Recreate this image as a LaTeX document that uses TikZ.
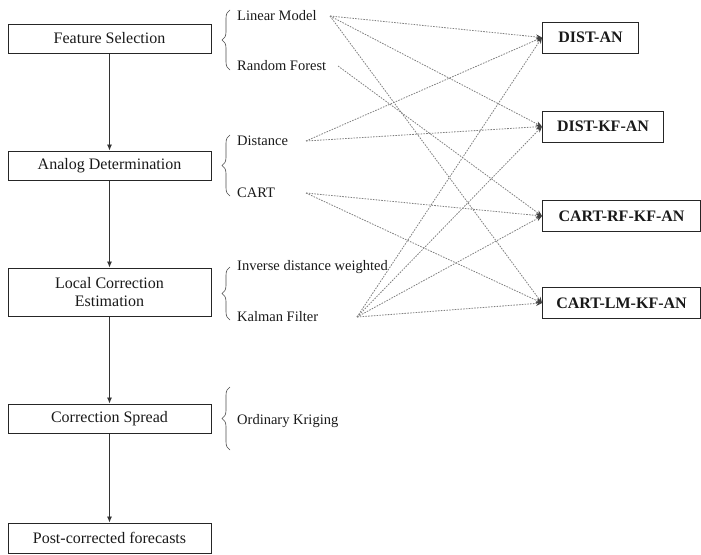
\documentclass[tikz,border=0pt]{standalone}
\usepackage{fontspec}
\setmainfont{Liberation Serif}
\usetikzlibrary{positioning,arrows.meta,decorations.pathreplacing}

\tikzset{
  stage/.style={draw=black!85, line width=1pt, minimum width=203pt, minimum height=29pt,
    inner sep=0pt, align=center, text=black!90, font=\fontsize{16}{18.5}\selectfont},
  method/.style={anchor=west, inner sep=0pt, text=black!90, font=\fontsize{14.5}{16}\selectfont},
  model/.style={draw=black!85, line width=1pt, anchor=west, minimum height=31pt,
    inner sep=0pt, text=black!90, font=\fontsize{16}{18}\selectfont\bfseries},
  flow/.style={black!80, line width=0.8pt, -{Latex[length=6pt,width=5pt]}},
  link/.style={gray, line width=0.8pt, dash pattern=on 1.6pt off 1.2pt,
    -{Stealth[length=6pt,width=5pt,black!75]}},
  grp/.style={black!70, line width=0.6pt, decorate, decoration={brace, amplitude=8pt}}
}

\begin{document}
\begin{tikzpicture}[x=1pt, y=-1pt]
  \useasboundingbox (0,0) rectangle (701,554);

  % process stages
  \node[stage] (fs)  at (109.5,38.5) {Feature Selection};
  \node[stage] (ad)  at (109.5,165.5) {Analog Determination};
  \node[stage, minimum height=48pt] (lce) at (109.5,292) {Local Correction\\Estimation};
  \node[stage] (cs)  at (109.5,418.5) {Correction Spread};
  \node[stage, minimum height=30pt] (pcf) at (109.5,538) {Post-corrected forecasts};

  \draw[flow] (fs) -- (ad);
  \draw[flow] (ad) -- (lce);
  \draw[flow] (lce) -- (cs);
  \draw[flow] (cs) -- (pcf);

  % braces
  \draw[grp] (230,70) -- (230,10);
  \draw[grp] (230,196) -- (230,135);
  \draw[grp] (230,320) -- (230,267);
  \draw[grp] (230,450) -- (230,387);

  % methods
  \node[method] (lm)   at (237,16)  {Linear Model};
  \node[method] (rf)   at (237,66)  {Random Forest};
  \node[method] (dist) at (237,141) {Distance};
  \node[method] (cart) at (237,193) {CART};
  \node[method] (idw)  at (237,267) {Inverse distance weighted};
  \node[method] (kf)   at (237,317) {Kalman Filter};
  \node[method] (ok)   at (237,421) {Ordinary Kriging};

  \coordinate (lmout)   at (330,16);
  \coordinate (rfout)   at (338,66);
  \coordinate (distout) at (306,141);
  \coordinate (cartout) at (306,193);
  \coordinate (kfout)   at (357,317);

  % models
  \node[model, minimum width=96pt]  (m1) at (542,37.5)  {DIST-AN};
  \node[model, minimum width=121pt] (m2) at (542,126.5) {DIST-KF-AN};
  \node[model, minimum width=158pt] (m3) at (542,216)   {CART-RF-KF-AN};
  \node[model, minimum width=158pt] (m4) at (542,303)   {CART-LM-KF-AN};

  \draw[link] (lmout) -- (m1.west);
  \draw[link] (lmout) -- (m2.west);
  \draw[link] (lmout) -- (m4.west);
  \draw[link] (rfout) -- (m3.west);
  \draw[link] (distout) -- (m1.west);
  \draw[link] (distout) -- (m2.west);
  \draw[link] (cartout) -- (m3.west);
  \draw[link] (cartout) -- (m4.west);
  \draw[link] (kfout) -- (m1.west);
  \draw[link] (kfout) -- (m2.west);
  \draw[link] (kfout) -- (m3.west);
  \draw[link] (kfout) -- (m4.west);
\end{tikzpicture}
\end{document}
